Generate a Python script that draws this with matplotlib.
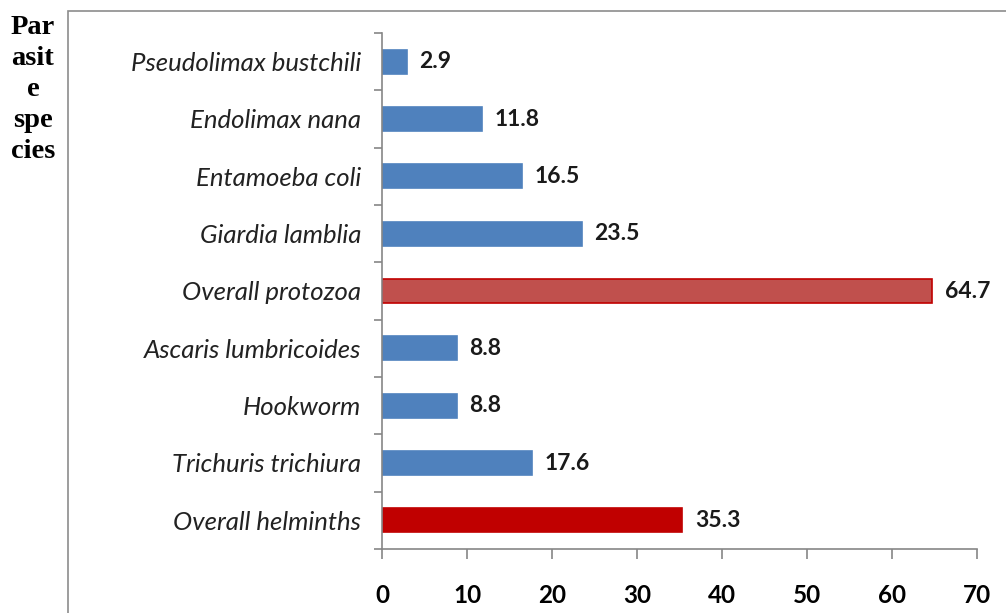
import matplotlib.pyplot as plt
from matplotlib.patches import Rectangle
import numpy as np

# bottom to top
species = ["Overall helminths", "Trichuris trichiura", "Hookworm",
           "Ascaris lumbricoides", "Overall protozoa", "Giardia lamblia",
           "Entamoeba coli", "Endolimax nana", "Pseudolimax bustchili"]
percent = [35.3, 17.6, 8.8, 8.8, 64.7, 23.5, 16.5, 11.8, 2.9]
xticks = [0, 10, 20, 30, 40, 50, 60, 70]

blue = "#4F81BD"
colors = ["#C00000", blue, blue, blue, "#C0504D", blue, blue, blue, blue]
edges = ["#C00000", blue, blue, blue, "#C00000", blue, blue, blue, blue]

fig = plt.figure(figsize=(10.06, 6.13), dpi=100)
ax = fig.add_axes([382 / 1006, 1 - 549 / 613, (977 - 382) / 1006, (549 - 33) / 613])

# chart frame (extends past the right and bottom edge)
fig.patches.append(Rectangle((68 / 1006, -0.1), 1.2, 1 - 11 / 613 + 0.1,
                             transform=fig.transFigure, fill=False,
                             edgecolor="#8c8c8c", lw=1.2))

y = np.arange(len(species))
ax.barh(y, percent, height=0.42, color=colors, edgecolor=edges, linewidth=1.2)

for yi, v in zip(y, percent):
    ax.text(v + 1.5, yi, f"{v}", va="center", ha="left",
            fontsize=16.5, fontfamily="Lato", fontweight="bold", color="#1a1a1a")

ax.set_xlim(0, 70)
ax.set_ylim(-0.5, len(species) - 0.5)
ax.set_xticks(xticks)
ax.set_xticklabels([str(t) for t in xticks], fontsize=17.5, fontfamily="Lato",
                   fontweight="bold")
ax.set_yticks(y)
ax.set_yticklabels(species, fontsize=18.5, fontfamily="Lato", style="italic",
                   color="#222222")
ax.set_yticks(np.arange(-0.5, len(species), 1.0), minor=True)
ax.tick_params(axis="y", which="major", length=0, pad=15)
ax.tick_params(axis="y", which="minor", length=6, color="#868686", width=1.2)
ax.tick_params(axis="x", length=7, color="#868686", width=1.2, pad=18)

for s in ["top", "right"]:
    ax.spines[s].set_visible(False)
for s in ["left", "bottom"]:
    ax.spines[s].set_color("#868686")
    ax.spines[s].set_linewidth(1.2)

fig.text(33 / 1006, 1 - 15 / 613, "Par\nasit\ne\nspe\ncies", ha="center", va="top",
         fontsize=20.5, fontfamily="Liberation Serif", fontweight="bold",
         linespacing=1.32)

fig.savefig("out.png", dpi=100)
